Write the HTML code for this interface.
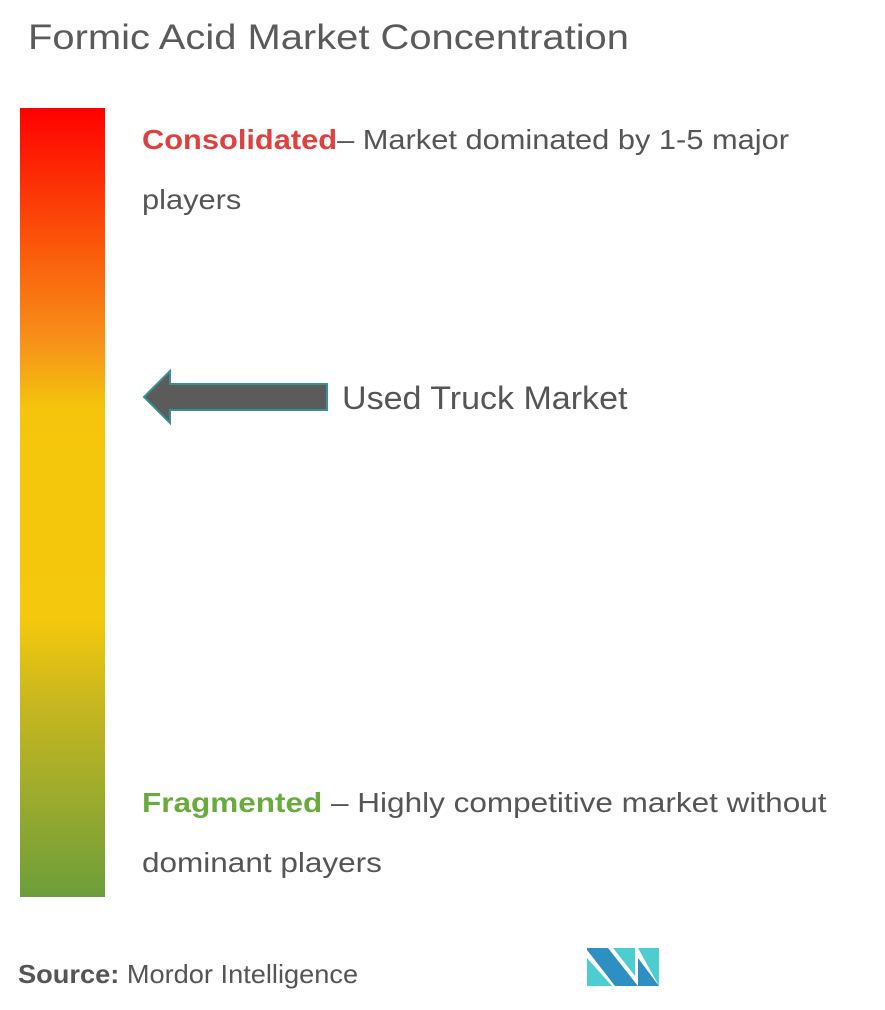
<!DOCTYPE html>
<html><head><style>
body{margin:0;width:885px;height:1010px;background:#fff;font-family:"Liberation Sans",sans-serif;color:#555;position:relative;overflow:hidden}
.t{position:absolute;white-space:nowrap;transform-origin:0 0}
</style></head><body>
<div class="t" style="left:28px;top:18px;font-size:35px;color:#5a5a5a;transform:scaleX(1.14)">Formic Acid Market Concentration</div>
<div style="position:absolute;left:20px;top:108px;width:85px;height:789px;background:linear-gradient(to bottom,#ff0000 0%,#fa5a0a 18%,#f7931a 30%,#f4c50c 38%,#f4c80c 65%,#c9b81e 75%,#a5ad2a 85%,#6d9e3b 100%)"></div>
<div class="t" style="left:142px;top:124px;font-size:28px;transform:scaleX(1.10)"><b style="color:#e04040">Consolidated</b>– Market dominated by 1-5 major</div>
<div class="t" style="left:142px;top:184px;font-size:28px;transform:scaleX(1.10)">players</div>
<svg style="position:absolute;left:0;top:0" width="885" height="1010"><polygon points="144,397 170,371 170,384 327,384 327,410 170,410 170,423" fill="#5b5b5b" stroke="#3a8f8f" stroke-width="2"/>
<polygon points="587,948 608,948 638,986 615,986 587,950" fill="#2e8fc3"/>
<polygon points="587,958 612,986 587,986" fill="#4ccdd0"/>
<polygon points="613,948 635,948 635,976" fill="#4ccdd0"/>
<polygon points="638,948 659,948 659,986" fill="#4ccdd0"/>
<polygon points="638,958 659,986 638,986" fill="#2e8fc3"/></svg>
<div class="t" style="left:342px;top:380px;font-size:32px;transform:scaleX(1.063)">Used Truck Market</div>
<div class="t" style="left:142px;top:787px;font-size:28px;transform:scaleX(1.125)"><b style="color:#6aab3e">Fragmented</b> – Highly competitive market without</div>
<div class="t" style="left:142px;top:847px;font-size:28px;transform:scaleX(1.125)">dominant players</div>
<div class="t" style="left:18px;top:959px;font-size:26px;transform:scaleX(1.046)"><b>Source:</b> Mordor Intelligence</div>
</body></html>
